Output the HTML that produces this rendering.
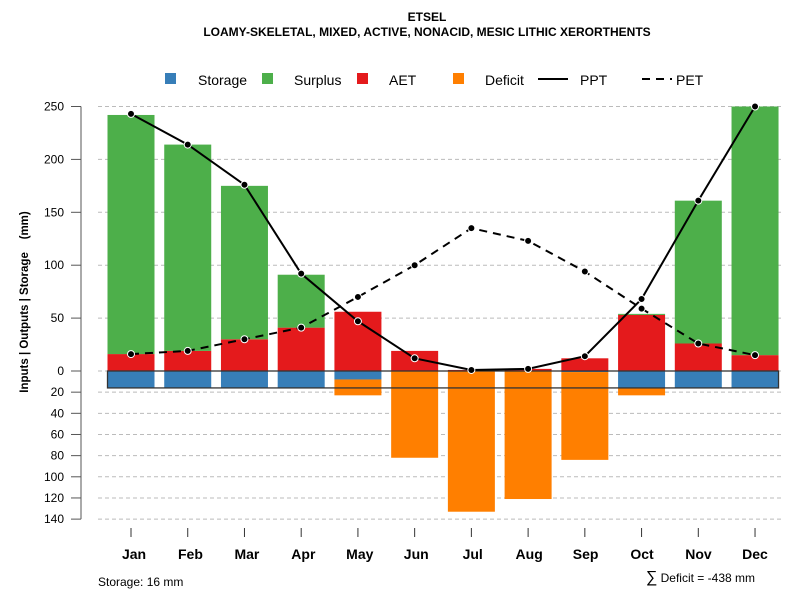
<!DOCTYPE html>
<html><head><meta charset="utf-8"><style>
body{margin:0;background:#fff;font-family:"Liberation Sans",sans-serif}
svg text{font-family:"Liberation Sans",sans-serif}
</style></head><body>
<svg id="c" width="800" height="600" xmlns="http://www.w3.org/2000/svg">
<text x="427" y="21" text-anchor="middle" font-size="12" font-weight="bold">ETSEL</text>
<text x="427" y="36" text-anchor="middle" font-size="12" font-weight="bold">LOAMY-SKELETAL, MIXED, ACTIVE, NONACID, MESIC LITHIC XERORTHENTS</text>
<g font-size="14">
<rect x="165" y="73" width="11" height="11" fill="#377eb8"/><text x="198" y="85">Storage</text>
<rect x="262" y="73" width="11" height="11" fill="#4daf4a"/><text x="294" y="85">Surplus</text>
<rect x="357" y="73" width="11" height="11" fill="#e41a1c"/><text x="389" y="85">AET</text>
<rect x="453" y="73" width="11" height="11" fill="#ff7f00"/><text x="485" y="85">Deficit</text>
<line x1="538" y1="79" x2="568" y2="79" stroke="#000" stroke-width="2"/><text x="580" y="85">PPT</text>
<line x1="642" y1="79" x2="672" y2="79" stroke="#000" stroke-width="2" stroke-dasharray="8,6"/><text x="676" y="85">PET</text>
</g>
<g id="grid"></g><g id="axes"></g><g id="bars"></g><g id="lines"></g>
<text transform="translate(28,302) rotate(-90)" text-anchor="middle" font-size="11.5" font-weight="bold" xml:space="preserve">Inputs | Outputs | Storage    (mm)</text>
<text x="98" y="586" font-size="12">Storage: 16 mm</text>
<text x="755" y="582" text-anchor="end" font-size="12"><tspan font-size="16">∑</tspan> Deficit = -438 mm</text>
</svg>
<script>
const months=["Jan","Feb","Mar","Apr","May","Jun","Jul","Aug","Sep","Oct","Nov","Dec"];
const ppt=[243,214,176,92,47,12,1,2,14,68,161,250];
const pet=[16,19,30,41,70,100,135,123,94,59,26,15];
const aet=[16,19,30,41,56,19,1,2,12,53,26,15];
const surplus=[226,195,145,50,0,0,0,0,0,1,135,235];
const storage=[16,16,16,16,8,0,0,0,1,16,16,16];
const deficit=[0,0,0,0,15,82,133,121,83,7,0,0];
const upTicks=[0,50,100,150,200,250];
const downTicks=[20,40,60,80,100,120,140];
const storageCap=16;
const NS="http://www.w3.org/2000/svg";
const y0=371,k=1.058;
const Y=v=>y0-v*k;
const X=i=>131+i*56.73;
const LX=i=>134+i*56.45;
const bw=47;
function el(t,a,p){const e=document.createElementNS(NS,t);for(const q in a)e.setAttribute(q,a[q]);document.getElementById(p).appendChild(e);return e;}
upTicks.forEach(t=>{
 const g=el('line',{x1:98,x2:781,y1:Y(t),y2:Y(t),stroke:'#bbb','stroke-dasharray':'4,3'},'grid');
 
 
 const tk=el('line',{x1:71,x2:81,y1:Y(t),y2:Y(t),stroke:'#555'},'axes');
 
 
 const tx=el('text',{x:64,y:Y(t)+4,'text-anchor':'end','font-size':12},'axes');tx.textContent=t;
 
 
});
downTicks.forEach(t=>{
 const g=el('line',{x1:98,x2:781,y1:Y(-t),y2:Y(-t),stroke:'#bbb','stroke-dasharray':'4,3'},'grid');
 
 
 const tk=el('line',{x1:71,x2:81,y1:Y(-t),y2:Y(-t),stroke:'#555'},'axes');
 
 
 const tx=el('text',{x:64,y:Y(-t)+4,'text-anchor':'end','font-size':12},'axes');tx.textContent=t;
 
 
});
const ax=el('line',{x1:81,x2:81,y1:Y(250),y2:Y(-140),stroke:'#555'},'axes');


months.forEach((m,i)=>{
 const tk=el('line',{x1:X(i),x2:X(i),y1:528,y2:537,stroke:'#333'},'axes');
 
 
 const tx=el('text',{x:LX(i),y:559,'text-anchor':'middle','font-size':14,'font-weight':'bold'},'axes');tx.textContent=m;
 
 
 const l=X(i)-bw/2;
 if(aet[i]>0){const r=el('rect',{x:l,y:Y(aet[i]),width:bw,height:aet[i]*k,fill:'#e41a1c'},'bars');
  
  }
 if(surplus[i]>0){const r=el('rect',{x:l,y:Y(aet[i]+surplus[i]),width:bw,height:surplus[i]*k,fill:'#4daf4a'},'bars');
  
  }
 if(storage[i]>0){const r=el('rect',{x:l,y:y0,width:bw,height:storage[i]*k,fill:'#377eb8'},'bars');
  
  }
 if(deficit[i]>0){const r=el('rect',{x:l,y:Y(-storage[i]),width:bw,height:deficit[i]*k,fill:'#ff7f00'},'bars');
  
  }
});
const sb=el('rect',{x:X(0)-bw/2,y:y0,width:X(11)+bw/2-(X(0)-bw/2),height:storageCap*k,fill:'none',stroke:'#333','stroke-width':1.3},'bars');


function line(vals,dash,name){
 const p=el('polyline',{points:vals.map((v,i)=>X(i)+','+Y(v)).join(' '),fill:'none',stroke:'#000','stroke-width':2,'stroke-dasharray':dash},'lines');
 
 
 vals.forEach((v,i)=>{const c=el('circle',{cx:X(i),cy:Y(v),r:3.5,fill:'#000',stroke:'#fff','stroke-width':1},'lines');
  
  });
}
line(pet,'8,6','pet');
line(ppt,'none','ppt');
</script>
</body></html>
